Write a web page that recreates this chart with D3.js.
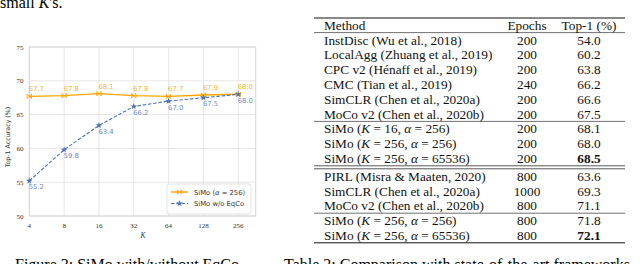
<!DOCTYPE html>
<html>
<head>
<meta charset="utf-8">
<script src="https://cdn.jsdelivr.net/npm/d3@7"></script>
<style>
  html, body { margin: 0; padding: 0; background: #fff; }
  svg { display: block; }
</style>
</head>
<body>
<svg id="fig" width="640" height="264"></svg>
<script>
(function() {
    'use strict';

    // chart data
    var kValues = [4, 8, 16, 32, 64, 128, 256];
    var simoAcc = [67.7, 67.8, 68.1, 67.8, 67.7, 67.9, 68.0];
    var noEqcoAcc = [55.2, 59.8, 63.4, 66.2, 67.0, 67.5, 68.0];
    var yTicks = [50, 55, 60, 65, 70, 75];

    // table data ($..$ = italic math)
    var methods = ['InstDisc (Wu et al., 2018)', 'LocalAgg (Zhuang et al., 2019)', 'CPC v2 (Hénaff et al., 2019)',
        'CMC (Tian et al., 2019)', 'SimCLR (Chen et al., 2020a)', 'MoCo v2 (Chen et al., 2020b)',
        'SiMo ($K$ = 16, $α$ = 256)', 'SiMo ($K$ = 256, $α$ = 256)', 'SiMo ($K$ = 256, $α$ = 65536)',
        'PIRL (Misra & Maaten, 2020)', 'SimCLR (Chen et al., 2020a)', 'MoCo v2 (Chen et al., 2020b)',
        'SiMo ($K$ = 256, $α$ = 256)', 'SiMo ($K$ = 256, $α$ = 65536)'];
    var epochs = ['200', '200', '200', '240', '200', '200', '200', '200', '200', '800', '1000', '800', '800', '800'];
    var top1 = ['54.0', '60.2', '63.8', '66.2', '66.6', '67.5', '68.1', '68.0', '68.5', '63.6', '69.3', '71.1', '71.8', '72.1'];
    var boldRows = [8, 13];
    var groupSizes = [6, 3, 3, 2];
    var groupRules = ['single', 'double', 'single'];

    var svg = d3.select('#fig');
    var serif = '"Liberation Serif", "Times New Roman", serif';
    var sans = '"DejaVu Sans", sans-serif';

    function addRich(sel, str) {
        str.split('$').forEach(function(part, i) {
            if (!part) { return; }
            sel.append('tspan')
                .attr('font-style', i % 2 ? 'italic' : null)
                .text(part);
        });
    }

    // ---------- captions cut off by the crop ----------
    var top = svg.append('text')
        .attr('x', 0).attr('y', 7.5)
        .attr('font-family', serif).attr('font-size', 16);
    addRich(top, 'small $K$\'s.');

    svg.append('text')
        .attr('x', 15).attr('y', 269.5)
        .attr('font-family', serif).attr('font-size', 16)
        .text('Figure 3: SiMo with/without EqCo.');
    svg.append('text')
        .attr('x', 284).attr('y', 269.5)
        .attr('font-family', serif).attr('font-size', 16)
        .text('Table 2: Comparison with state-of-the-art frameworks');

    // ---------- line chart ----------
    var x = d3.scaleLog().base(2).domain([4, 256 * Math.SQRT2]).range([29.3, 255.7]);
    var y = d3.scaleLinear().domain([50, 75]).range([216, 47]);
    var orange = '#ffa500';
    var blue = '#4c72b0';

    var plot = svg.append('g');
    plot.append('g').selectAll('line.h')
        .data(yTicks).enter().append('line')
        .attr('x1', x.range()[0]).attr('x2', x.range()[1])
        .attr('y1', function(d) { return y(d); })
        .attr('y2', function(d) { return y(d); })
        .attr('stroke', '#e3e3e3').attr('stroke-width', 0.9);
    plot.append('g').selectAll('line.v')
        .data(kValues).enter().append('line')
        .attr('x1', function(d) { return x(d); })
        .attr('x2', function(d) { return x(d); })
        .attr('y1', y.range()[0]).attr('y2', y.range()[1])
        .attr('stroke', '#e3e3e3').attr('stroke-width', 0.9);
    plot.append('rect')
        .attr('x', x.range()[0]).attr('y', y.range()[1])
        .attr('width', x.range()[1] - x.range()[0])
        .attr('height', y.range()[0] - y.range()[1])
        .attr('fill', 'none').attr('stroke', '#d6d6d6').attr('stroke-width', 1);

    // tick labels
    plot.append('g').selectAll('text')
        .data(yTicks).enter().append('text')
        .attr('x', 23.5)
        .attr('y', function(d) { return y(d) + 2.5; })
        .attr('text-anchor', 'end')
        .attr('font-family', serif).attr('font-size', 7).attr('fill', '#333')
        .text(function(d) { return d; });
    plot.append('g').selectAll('text')
        .data(kValues).enter().append('text')
        .attr('x', function(d) { return x(d); })
        .attr('y', 227.5)
        .attr('text-anchor', 'middle')
        .attr('font-family', serif).attr('font-size', 7).attr('fill', '#333')
        .text(function(d) { return d; });
    plot.append('text')
        .attr('x', 143).attr('y', 238)
        .attr('text-anchor', 'middle')
        .attr('font-family', serif).attr('font-style', 'italic')
        .attr('font-size', 7.5).attr('fill', '#333')
        .text('K');
    plot.append('text')
        .attr('transform', 'translate(10,137) rotate(-90)')
        .attr('text-anchor', 'middle')
        .attr('font-family', sans).attr('font-size', 6.3).attr('fill', '#333')
        .text('Top-1 Accuracy (%)');

    var line = d3.line()
        .x(function(d, i) { return x(kValues[i]); })
        .y(function(d) { return y(d); });

    plot.append('path').datum(simoAcc)
        .attr('d', line).attr('fill', 'none')
        .attr('stroke', orange).attr('stroke-width', 1.4);
    plot.append('path').datum(noEqcoAcc)
        .attr('d', line).attr('fill', 'none')
        .attr('stroke', blue).attr('stroke-width', 1.1)
        .attr('stroke-dasharray', '3.5,1.8');

    // markers
    var bowtie = 'M-2.2,-2.2L2.2,2.2M-2.2,2.2L2.2,-2.2M-2.2,-2.2L-2.2,2.2M2.2,-2.2L2.2,2.2';
    plot.append('g').selectAll('path')
        .data(simoAcc).enter().append('path')
        .attr('transform', function(d, i) { return 'translate(' + x(kValues[i]) + ',' + y(d) + ')'; })
        .attr('d', bowtie).attr('fill', 'none')
        .attr('stroke', orange).attr('stroke-width', 0.9);
    var star = d3.symbol().type(d3.symbolStar).size(14);
    plot.append('g').selectAll('path')
        .data(noEqcoAcc).enter().append('path')
        .attr('transform', function(d, i) { return 'translate(' + x(kValues[i]) + ',' + y(d) + ')'; })
        .attr('d', star).attr('fill', blue);

    // value labels
    plot.append('g').selectAll('text')
        .data(simoAcc).enter().append('text')
        .attr('x', function(d, i) { return x(kValues[i]) - 0.5; })
        .attr('y', function(d) { return y(d) - 5; })
        .attr('font-family', sans).attr('font-size', 6.8).attr('fill', '#f7b23b')
        .text(function(d) { return d.toFixed(1); });
    plot.append('g').selectAll('text')
        .data(noEqcoAcc).enter().append('text')
        .attr('x', function(d, i) { return x(kValues[i]) - 0.5; })
        .attr('y', function(d) { return y(d) + 8.5; })
        .attr('font-family', sans).attr('font-size', 6.8).attr('fill', '#6b8cc4')
        .text(function(d) { return d.toFixed(1); });

    // legend
    var lg = plot.append('g').attr('transform', 'translate(167,184)');
    lg.append('rect')
        .attr('width', 84).attr('height', 30).attr('rx', 2)
        .attr('fill', '#fff').attr('stroke', '#dcdcdc').attr('stroke-width', 0.8);
    var legendItems = [
        { label: 'SiMo ($α$ = 256)', color: orange, dash: null, mark: 'bow' },
        { label: 'SiMo w/o EqCo', color: blue, dash: '3.5,1.8', mark: 'star' }
    ];
    legendItems.forEach(function(it, i) {
        var gy = 8 + i * 11.5;
        lg.append('line')
            .attr('x1', 4).attr('x2', 21).attr('y1', gy).attr('y2', gy)
            .attr('stroke', it.color).attr('stroke-width', it.dash ? 1.1 : 1.4)
            .attr('stroke-dasharray', it.dash);
        if (it.mark === 'bow') {
            lg.append('path').attr('transform', 'translate(12.5,' + gy + ')')
                .attr('d', bowtie).attr('fill', 'none').attr('stroke', it.color).attr('stroke-width', 0.9);
        } else {
            lg.append('path').attr('transform', 'translate(12.5,' + gy + ')')
                .attr('d', star).attr('fill', it.color);
        }
        var t = lg.append('text')
            .attr('x', 27).attr('y', gy + 2.5)
            .attr('font-family', sans).attr('font-size', 6.8).attr('fill', '#333');
        addRich(t, it.label);
    });

    // ---------- table ----------
    var tx0 = 314, tx1 = 625;
    var colMethod = 324, colEpochs = 527, colTop1 = 589;
    var pitch = 14.8;
    var fs = 13.3;
    var tb = svg.append('g').attr('font-family', serif).attr('font-size', fs).attr('fill', '#111');

    var rules = [];
    var headerY = 25.2;
    rules.push({ y: 18, w: 1.0 });
    rules.push({ y: headerY + pitch / 2, w: 0.6 });

    var rowY = [];
    var cy = headerY + pitch;
    groupSizes.forEach(function(n, g) {
        for (var k = 0; k < n; k++) {
            rowY.push(cy);
            cy += pitch;
        }
        var ruleY = cy - pitch / 2;
        if (g < groupRules.length) {
            if (groupRules[g] === 'double') {
                rules.push({ y: ruleY, w: 0.7 });
                rules.push({ y: ruleY + 3, w: 0.7 });
                cy += 3;
            } else {
                rules.push({ y: ruleY, w: 0.6 });
            }
        } else {
            rules.push({ y: ruleY, w: 1.0 });
        }
    });

    tb.selectAll('line').data(rules).enter().append('line')
        .attr('x1', tx0).attr('x2', tx1)
        .attr('y1', function(d) { return d.y; })
        .attr('y2', function(d) { return d.y; })
        .attr('stroke', '#111').attr('stroke-width', function(d) { return d.w; });

    var base = 0.34 * fs;
    tb.append('text').attr('x', colMethod).attr('y', headerY + base).text('Method');
    tb.append('text').attr('x', colEpochs).attr('y', headerY + base).attr('text-anchor', 'middle').text('Epochs');
    tb.append('text').attr('x', colTop1).attr('y', headerY + base).attr('text-anchor', 'middle').text('Top-1 (%)');

    methods.forEach(function(m, i) {
        var t = tb.append('text').attr('x', colMethod).attr('y', rowY[i] + base);
        addRich(t, m);
        tb.append('text').attr('x', colEpochs).attr('y', rowY[i] + base)
            .attr('text-anchor', 'middle').text(epochs[i]);
        tb.append('text').attr('x', colTop1).attr('y', rowY[i] + base)
            .attr('text-anchor', 'middle')
            .attr('font-weight', boldRows.indexOf(i) >= 0 ? 'bold' : null)
            .text(top1[i]);
    });
})();
</script>
</body>
</html>
